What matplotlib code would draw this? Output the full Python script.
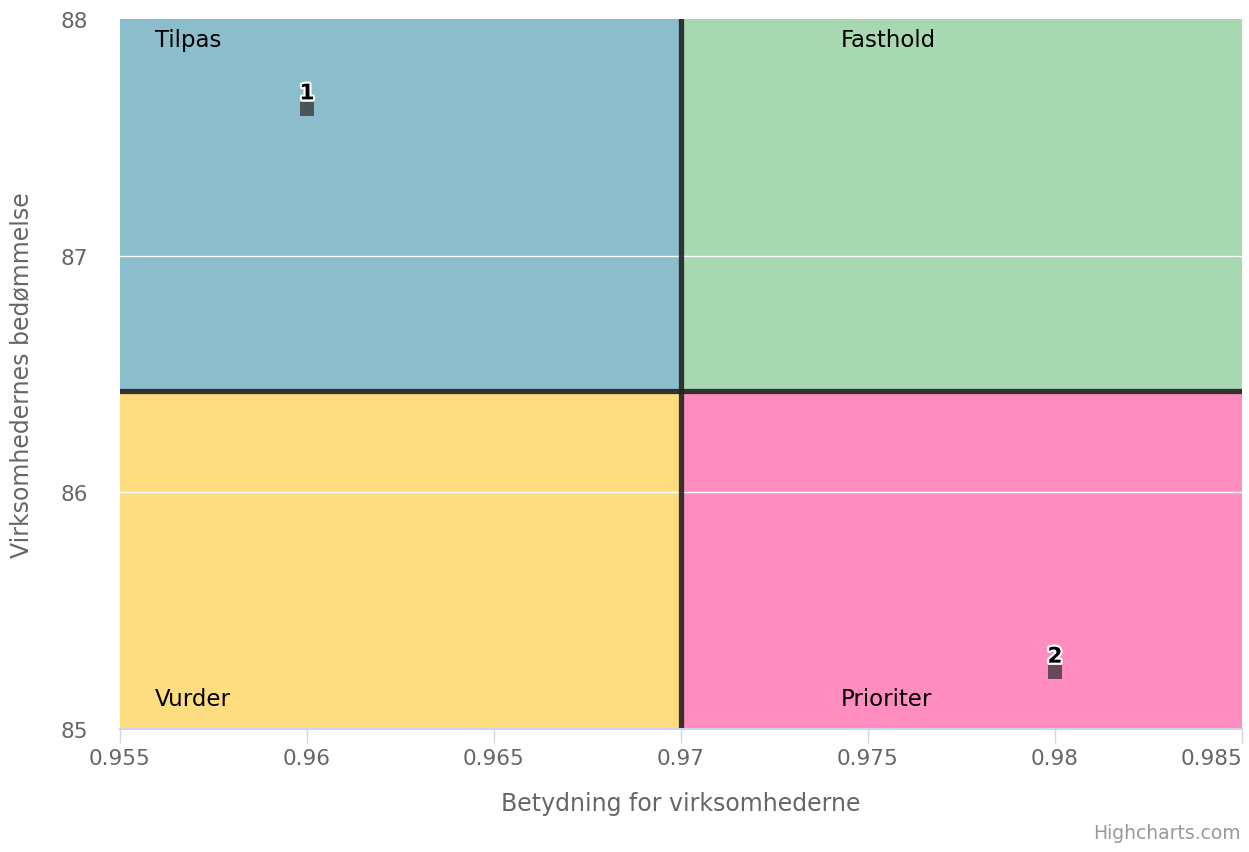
import numpy as np
import matplotlib.pyplot as plt
import matplotlib.patheffects as pe

# data
x_vals = [0.96, 0.98]
y_vals = [87.62, 85.24]
point_labels = ['1', '2']
quadrant_names = ['Tilpas', 'Fasthold', 'Vurder', 'Prioriter']
quadrant_colors = ['#8bbdcc', '#a8d8b1', '#fddd80', '#ff8dbf']
x_ticks = [0.955, 0.96, 0.965, 0.97, 0.975, 0.98, 0.985]
x_tick_labels = ['0.955', '0.96', '0.965', '0.97', '0.975', '0.98', '0.985']
y_ticks = [85, 86, 87, 88]

x_min, x_max = 0.955, 0.985
y_min, y_max = 85, 88
x_mid = np.mean(x_vals)
y_mid = np.mean(y_vals)

fig = plt.figure(figsize=(12.49, 8.53), dpi=100)
ax = fig.add_axes([120 / 1249, 123 / 853, 1122 / 1249, 710 / 853])

# quadrant backgrounds
ax.fill_between([x_min, x_mid], y_mid, y_max, color=quadrant_colors[0], lw=0, zorder=0)
ax.fill_between([x_mid, x_max], y_mid, y_max, color=quadrant_colors[1], lw=0, zorder=0)
ax.fill_between([x_min, x_mid], y_min, y_mid, color=quadrant_colors[2], lw=0, zorder=0)
ax.fill_between([x_mid, x_max], y_min, y_mid, color=quadrant_colors[3], lw=0, zorder=0)

# white grid lines
for yt in y_ticks[1:-1]:
    ax.axhline(yt, color='white', lw=1, zorder=1)

# quadrant dividers
ax.axvline(x_mid, color='#222222', lw=3.8, alpha=0.9, zorder=2)
ax.axhline(y_mid, color='#222222', lw=3.8, alpha=0.9, zorder=2)

# quadrant labels
qfs = 16.5
ax.text(0.95594, 87.915, quadrant_names[0], fontsize=qfs, va='center', zorder=3)
ax.text(0.97427, 87.915, quadrant_names[1], fontsize=qfs, va='center', zorder=3)
ax.text(0.95594, 85.13, quadrant_names[2], fontsize=qfs, va='center', zorder=3)
ax.text(0.97427, 85.13, quadrant_names[3], fontsize=qfs, va='center', zorder=3)

# points
ax.scatter(x_vals, y_vals, marker='s', s=100, color='#333333', alpha=0.75, lw=0, zorder=4)
for x, y, lab in zip(x_vals, y_vals, point_labels):
    ax.annotate(lab, (x, y), xytext=(0, 4), textcoords='offset points', ha='center', va='bottom',
                fontsize=15.5, fontweight='bold', color='black', zorder=5,
                path_effects=[pe.withStroke(linewidth=3, foreground='white')])

ax.set_xlim(x_min, x_max)
ax.set_ylim(y_min, y_max)
ax.set_xticks(x_ticks)
ax.set_xticklabels(x_tick_labels)
ax.get_xticklabels()[-1].set_ha('right')
ax.set_yticks(y_ticks)
ax.tick_params(axis='x', colors='#ccd6eb', length=10, width=1, labelcolor='#666666', labelsize=15.5, pad=4)
ax.tick_params(axis='y', length=0, labelcolor='#666666', labelsize=15.5, pad=23)
for s in ['top', 'right', 'left']:
    ax.spines[s].set_visible(False)
ax.spines['bottom'].set_color('#ccd6eb')
ax.spines['bottom'].set_linewidth(1.5)

ax.set_xlabel('Betydning for virksomhederne', fontsize=17, color='#666666', labelpad=16)
ax.set_ylabel('Virksomhedernes bedømmelse', fontsize=17, color='#666666', labelpad=20)

fig.text(0.993, 0.012, 'Highcharts.com', ha='right', va='bottom', fontsize=13.5, color='#999999')

fig.savefig('out.png', dpi=100)
